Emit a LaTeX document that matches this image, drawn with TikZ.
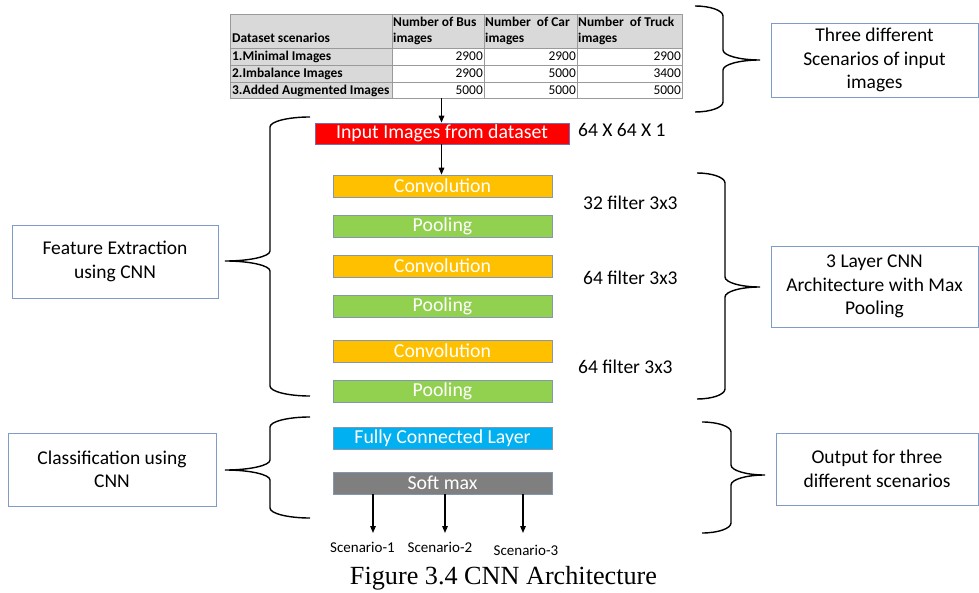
\documentclass[tikz,border=0pt]{standalone}
\usepackage{fontspec}
\setmainfont{Carlito}
\newfontfamily\captionserif{Liberation Serif}
\usetikzlibrary{arrows.meta}

\definecolor{convorange}{HTML}{FFC000}
\definecolor{poolgreen}{HTML}{92D050}
\definecolor{fcblue}{HTML}{00B0F0}
\definecolor{softgray}{HTML}{7F7F7F}
\definecolor{inputred}{HTML}{FF0000}
\definecolor{cellgray}{HTML}{D9D9D9}
\definecolor{gridgray}{HTML}{9A9A9A}
\definecolor{layeredge}{HTML}{8497B0}
\definecolor{inputedge}{HTML}{6F6FB8}
\definecolor{noteedge}{HTML}{7F9BC8}

% Office-style curly brace:
% #1 end x, #2 top y, #3 bottom y, #4 spine x, #5 tip x, #6 tip y
\newcommand\curlybrace[6]{%
  \draw[bracestyle]
    (#1,#2) .. controls (0.448*#1+0.552*#4,#2) and (#4,#2+4.5) .. (#4,#2+10)
    -- (#4,#6-10)
    .. controls (#4,#6-4.5) and (0.552*#4+0.448*#5,#6) .. (#5,#6)
    .. controls (0.552*#4+0.448*#5,#6) and (#4,#6+4.5) .. (#4,#6+10)
    -- (#4,#3-10)
    .. controls (#4,#3-4.5) and (0.448*#1+0.552*#4,#3) .. (#1,#3);}

\begin{document}
\begin{tikzpicture}[x=1pt,y=-1pt,
  bracestyle/.style={line width=1.4pt, black},
  layer/.style={draw=layeredge, line width=0.6pt, minimum width=219pt,
    minimum height=22pt, inner sep=0pt, text=white,
    font=\fontsize{19.8}{22}\selectfont},
  note/.style={draw=noteedge, line width=0.8pt, align=center, inner sep=0pt,
    font=\fontsize{19.5}{23.5}\selectfont},
  side/.style={anchor=west, inner sep=0pt, font=\fontsize{19.5}{22}\selectfont},
  scen/.style={inner sep=0pt, font=\fontsize{15}{18}\selectfont},
  arr/.style={line width=1.4pt, -{Triangle[length=7pt,width=5.5pt]}},
  hd/.style={inner sep=0pt, font=\bfseries\fontsize{13.4}{16}\selectfont},
  num/.style={inner sep=0pt, anchor=base east, font=\fontsize{13.4}{16}\selectfont}]
\useasboundingbox (0,0) rectangle (979,593);

% ---------- dataset table ----------
\fill[cellgray] (230,14) rectangle (682,48);
\fill[cellgray] (230,48) rectangle (392,98);
\draw[gridgray, line width=0.6pt]
  (230,14) rectangle (682,98)
  (230,48) -- (682,48) (230,65) -- (682,65) (230,82) -- (682,82)
  (392,14) -- (392,98) (484,14) -- (484,98) (577,14) -- (577,98);
\node[hd, anchor=base west] (hscen) at (232,43) {Dataset scenarios};
\node[hd, anchor=base west] (hbus1) at (393,27) {Number of Bus};
\node[hd, anchor=base west] (hbus2) at (393,43) {images};
\node[hd, anchor=base west] (hcar1) at (485,27) {Number~ of Car};
\node[hd, anchor=base west] (hcar2) at (485,43) {images};
\node[hd, anchor=base west] (htrk1) at (578,27) {Number~ of Truck};
\node[hd, anchor=base west] (htrk2) at (578,43) {images};
\node[hd, anchor=base west] (r1) at (232,61) {1.Minimal Images};
\node[hd, anchor=base west] (r2) at (232,78) {2.Imbalance Images};
\node[hd, anchor=base west] (r3) at (232,94.5) {3.Added Augmented Images};
\node[num] (r1a) at (483,61) {2900};
\node[num] (r1b) at (576,61) {2900};
\node[num] (r1c) at (681,61) {2900};
\node[num] (r2a) at (483,78) {2900};
\node[num] (r2b) at (576,78) {5000};
\node[num] (r2c) at (681,78) {3400};
\node[num] (r3a) at (483,94.5) {5000};
\node[num] (r3b) at (576,94.5) {5000};
\node[num] (r3c) at (681,94.5) {5000};
\coordinate (tblout) at (441.5,98);

% ---------- CNN layers ----------
\node[layer, fill=inputred, draw=inputedge, minimum width=254pt, minimum height=21pt]
  (input) at (442,133.5) {Input Images from dataset};
\node[layer, fill=convorange] (conv1) at (442.5,186) {Convolution};
\node[layer, fill=poolgreen]  (pool1) at (442.5,226) {Pooling};
\node[layer, fill=convorange] (conv2) at (442.5,266) {Convolution};
\node[layer, fill=poolgreen]  (pool2) at (442.5,306) {Pooling};
\node[layer, fill=convorange] (conv3) at (442.5,351) {Convolution};
\node[layer, fill=poolgreen]  (pool3) at (442.5,391) {Pooling};
\node[layer, fill=fcblue]     (fc)    at (442.5,438.5) {Fully Connected Layer};
\node[layer, fill=softgray]   (soft)  at (442.5,483) {Soft max};

\draw[arr] (tblout) -- (tblout |- input.north);
\draw[arr] (tblout |- input.south) -- (tblout |- conv1.north);

% layer sizes
\node[side] (dims) at (578,130) {64 X 64 X 1};
\node[side] (f1) at (583,203) {32 filter 3x3};
\node[side] (f2) at (583,278) {64 filter 3x3};
\node[side] (f3) at (578,367) {64 filter 3x3};

% outputs
\coordinate (o1) at (373,533);
\coordinate (o2) at (445,533);
\coordinate (o3) at (523,533);
\draw[arr] (o1 |- soft.south) -- (o1);
\draw[arr] (o2 |- soft.south) -- (o2);
\draw[arr] (o3 |- soft.south) -- (o3);
\node[scen] (s1) at (362.5,547.5) {Scenario-1};
\node[scen] (s2) at (440,547.5) {Scenario-2};
\node[scen] (s3) at (526,550) {Scenario-3};

% ---------- annotations ----------
\node[note, minimum width=206pt, minimum height=73pt] (feat) at (115,261.5)
  {Feature Extraction\\using CNN};
\node[note, minimum width=208pt, minimum height=73pt] (cls) at (112,469.5)
  {Classification using\\CNN};
\node[note, minimum width=207pt, minimum height=74pt] (scn) at (874.5,60)
  {Three different\\Scenarios of input\\images};
\node[note, minimum width=207pt, minimum height=81pt] (arch) at (874.5,286.5)
  {3 Layer CNN\\Architecture with Max\\Pooling};
\node[note, minimum width=202pt, minimum height=72pt] (outn) at (877,469)
  {Output for three\\different scenarios};

\curlybrace{310}{117}{396}{270}{225}{261}
\curlybrace{310}{417}{518}{270}{225}{470}
\curlybrace{695}{6}{112}{723}{760}{60}
\curlybrace{697}{173}{399}{725}{760}{287}
\curlybrace{702}{422}{533}{731}{765}{475}

% ---------- caption ----------
\node[inner sep=0pt, font=\captionserif\fontsize{26.2}{30}\selectfont] (cap)
  at (503.5,578) {Figure 3.4 CNN Architecture};
\end{tikzpicture}
\end{document}
